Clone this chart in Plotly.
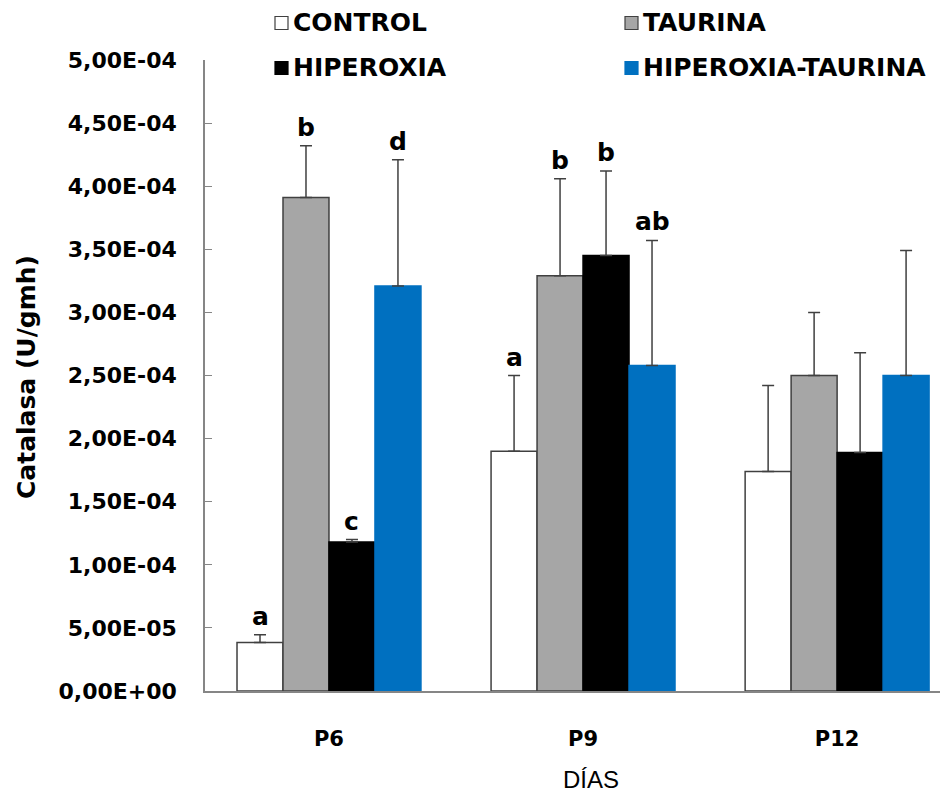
import plotly.graph_objects as go

# ---------------- data ----------------
days = ["P6", "P9", "P12"]
series_names = ["CONTROL", "TAURINA", "HIPEROXIA", "HIPEROXIA-TAURINA"]

control = [0.385e-4, 1.90e-4, 1.74e-4]
control_err = [0.06e-4, 0.60e-4, 0.68e-4]
taurina = [3.91e-4, 3.29e-4, 2.50e-4]
taurina_err = [0.41e-4, 0.77e-4, 0.50e-4]
hiperoxia = [1.18e-4, 3.45e-4, 1.89e-4]
hiperoxia_err = [0.02e-4, 0.67e-4, 0.79e-4]
hip_taurina = [3.21e-4, 2.58e-4, 2.50e-4]
hip_taurina_err = [1.00e-4, 0.99e-4, 0.99e-4]

control_letters = ["a", "a", ""]
taurina_letters = ["b", "b", ""]
hiperoxia_letters = ["c", "b", ""]
hip_taurina_letters = ["d", "ab", ""]

y_tickvals = [0, 0.5e-4, 1.0e-4, 1.5e-4, 2.0e-4, 2.5e-4, 3.0e-4, 3.5e-4, 4.0e-4, 4.5e-4, 5.0e-4]
y_ticktext = ["0,00E+00", "5,00E-05", "1,00E-04", "1,50E-04", "2,00E-04", "2,50E-04",
              "3,00E-04", "3,50E-04", "4,00E-04", "4,50E-04", "5,00E-04"]

y_title = "Catalasa (U/gmh)"
x_title = "DÍAS"

# ---------------- styling ----------------
values = [control, taurina, hiperoxia, hip_taurina]
errors = [control_err, taurina_err, hiperoxia_err, hip_taurina_err]
letters = [control_letters, taurina_letters, hiperoxia_letters, hip_taurina_letters]
fills = ["#FFFFFF", "#A6A6A6", "#000000", "#0070C0"]
outlines = ["#404040", "#404040", "#000000", "#0070C0"]

BOLD = "DejaVu Sans"
W, H = 950, 793
L, R, T, B = 205, 10, 60, 102
PW, PH = W - L - R, H - T - B
BARGAP = 0.276
n = len(series_names)
xpos = list(range(len(days)))


def px_x(p):
    return (p - L) / PW


def px_y(p):
    return (H - B - p) / PH


fig = go.Figure()
for i, name in enumerate(series_names):
    fig.add_trace(go.Bar(
        x=xpos, y=values[i], name=name,
        marker=dict(color=fills[i], line=dict(color=outlines[i], width=1.5)),
        error_y=dict(type="data", array=errors[i], symmetric=False,
                     arrayminus=[0] * len(days), color="#404040", thickness=1.5, width=6),
        showlegend=False,
    ))

# significance letters
w = (1 - BARGAP) / n
annotations = []
for i in range(n):
    off = -(1 - BARGAP) / 2 + (i + 0.5) * w
    for j in range(len(days)):
        if letters[i][j]:
            annotations.append(dict(
                x=xpos[j] + off, y=values[i][j] + errors[i][j], xref="x", yref="y",
                text=letters[i][j], showarrow=False, yanchor="bottom", yshift=2,
                font=dict(family=BOLD, size=25, color="#000000", weight="bold")))

# manual legend (2 x 2)
legend_pos = [(275, 23), (625, 23), (275, 68), (625, 68)]
shapes = []
sq = 13
for i, name in enumerate(series_names):
    cx, cy = legend_pos[i]
    shapes.append(dict(type="rect", xref="paper", yref="paper",
                       x0=px_x(cx), x1=px_x(cx + sq),
                       y0=px_y(cy + sq / 2), y1=px_y(cy - sq / 2),
                       fillcolor=fills[i], line=dict(color=outlines[i], width=1.2)))
    annotations.append(dict(x=px_x(cx + sq + 3), y=px_y(cy), xref="paper", yref="paper",
                            text=name, showarrow=False, xanchor="left", yanchor="middle",
                            font=dict(family=BOLD, size=25, color="#000000", weight="bold")))

# axis titles
annotations.append(dict(x=px_x(27), y=px_y(377), xref="paper", yref="paper", text=y_title,
                        textangle=-90, showarrow=False, xanchor="center", yanchor="middle",
                        font=dict(family=BOLD, size=25, color="#000000", weight="bold")))
annotations.append(dict(x=px_x(591), y=px_y(779), xref="paper", yref="paper", text=x_title,
                        showarrow=False, xanchor="center", yanchor="middle",
                        font=dict(family="Liberation Sans Narrow, Liberation Sans", size=24,
                                  color="#000000")))

fig.update_layout(
    width=W, height=H,
    margin=dict(l=L, r=R, t=T, b=B, pad=0),
    paper_bgcolor="#FFFFFF", plot_bgcolor="#FFFFFF",
    barmode="group", bargap=BARGAP, bargroupgap=0,
    annotations=annotations, shapes=shapes,
    showlegend=False,
)
fig.update_xaxes(
    tickmode="array", tickvals=xpos, ticktext=days,
    range=[-0.488, 2.405], showgrid=False, zeroline=False,
    showline=True, linecolor="#868686", linewidth=1.5, ticks="",
    ticklabelstandoff=28,
    tickfont=dict(family=BOLD, size=21, color="#000000", weight="bold"),
)
fig.update_yaxes(
    range=[0, 5e-4], tickmode="array", tickvals=y_tickvals, ticktext=y_ticktext,
    showgrid=False, zeroline=False, showline=True, linecolor="#868686", linewidth=1.5,
    ticks="inside", ticklen=7, tickcolor="#868686", tickwidth=1,
    ticklabelstandoff=22,
    tickfont=dict(family=BOLD, size=22, color="#000000", weight="bold"),
)

fig.write_html("out.html", config={"displayModeBar": False},
               post_script="document.body.style.margin='0';document.body.style.overflow='hidden';")
